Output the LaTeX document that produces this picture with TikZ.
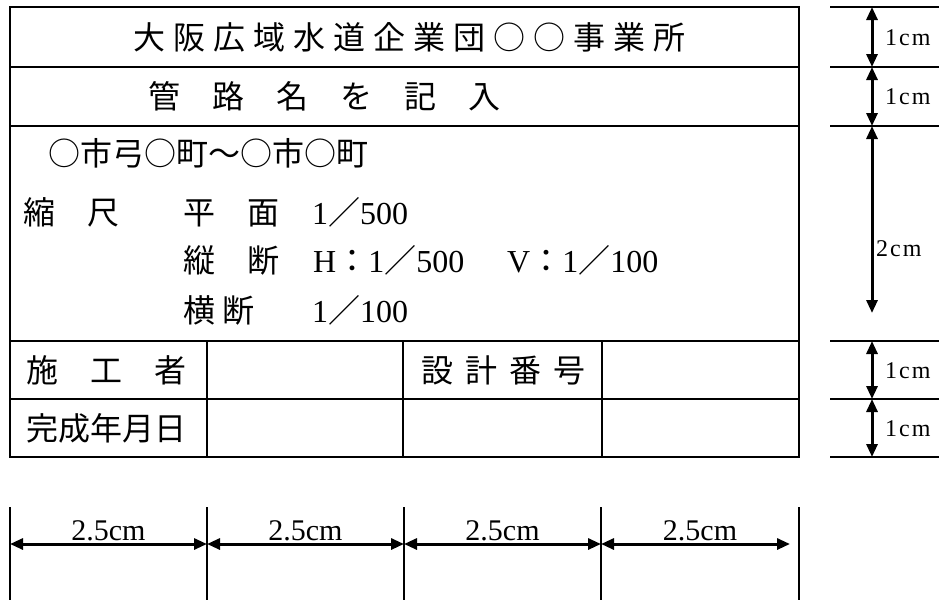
\documentclass[tikz,border=0pt]{standalone}
\usepackage{fontspec}
\setmainfont{Liberation Serif}
\newfontfamily\cjk{Noto Sans CJK JP}
\usetikzlibrary{arrows.meta}
\newcommand{\tgap}{\hspace{8pt}}

\begin{document}
\begin{tikzpicture}[x=1pt,y=-1pt,
cell text/.style =
  {anchor=base west, inner sep=0pt,
   font=\fontsize{32}{36}\selectfont},
dim label/.style =
  {anchor=base west, inner sep=0pt,
   font=\fontsize{24}{28}\selectfont},
width label/.style =
  {anchor=base, inner sep=0pt,
   font=\fontsize{30}{34}\selectfont},
frame line/.style = {line width=2.4pt},
dim arrow/.style =
  {line width=3pt,
   {Triangle[length=13pt,width=11pt]}-{Triangle[length=13pt,width=11pt]}}
]
\useasboundingbox (0,0) rectangle (939,600);
%Table
\draw[frame line] (10,7) rectangle (799,457);
\draw[frame line] (10,67) -- (799,67);
\draw[frame line] (10,126) -- (799,126);
\draw[frame line] (10,341) -- (799,341);
\draw[frame line] (10,399) -- (799,399);
\draw[frame line] (207,341) -- (207,457);
\draw[frame line] (403,341) -- (403,457);
\draw[frame line] (602,341) -- (602,457);
%Texts
\node[cell text] (title) at (133,49) {\cjk 大\tgap 阪\tgap 広\tgap 域\tgap 水\tgap 道\tgap 企\tgap 業\tgap 団\tgap ○\tgap ○\tgap 事\tgap 業\tgap 所};
\node[cell text] (pipe) at (148,108) {\cjk 管　路　名　を　記　入};
\node[cell text] (route) at (48,165) {\cjk ○市弓○町～○市○町};
\node[cell text] (scale) at (23,224) {\cjk 縮　尺};
\node[cell text] (plan) at (183,224) {\cjk 平　面};
\node[cell text] (plan-v) at (312,224) {1{\cjk ／}500};
\node[cell text] (prof) at (183,272) {\cjk 縦　断};
\node[cell text] (prof-h) at (313,272) {H{\cjk ：}1{\cjk ／}500};
\node[cell text] (prof-v) at (507,272) {V{\cjk ：}1{\cjk ／}100};
\node[cell text] (cross) at (183,322) {{\cjk 横}\hspace{7pt}{\cjk 断}};
\node[cell text] (cross-v) at (312,322) {1{\cjk ／}100};
\node[cell text] (builder) at (26,382) {\cjk 施　工　者};
\node[cell text] (design) at (421,382) {\cjk 設\hspace{12pt}計\hspace{12pt}番\hspace{12pt}号};
\node[cell text] (done) at (26,440) {\cjk 完成年月日};
%Heights
\draw[frame line] (830,7) -- (939,7);
\draw[frame line] (830,67) -- (939,67);
\draw[frame line] (830,126) -- (939,126);
\draw[frame line] (830,341) -- (939,341);
\draw[frame line] (830,399) -- (939,399);
\draw[frame line] (830,457) -- (939,457);
\coordinate (r0) at (872,7);
\coordinate (r1) at (872,67);
\coordinate (r2) at (872,126);
\coordinate (r3) at (872,313);
\coordinate (r4) at (872,341);
\coordinate (r5) at (872,399);
\coordinate (r6) at (872,457);
\draw[dim arrow] (r0) -- (r1);
\draw[dim arrow] (r1) -- (r2);
\draw[dim arrow] (r2) -- (r3);
\draw[dim arrow] (r4) -- (r5);
\draw[dim arrow] (r5) -- (r6);
\node[dim label] (h-title) at (885,45) {1\hspace{2pt}c\hspace{2pt}m};
\node[dim label] (h-pipe) at (885,104) {1\hspace{2pt}c\hspace{2pt}m};
\node[dim label] (h-scale) at (876,256) {2\hspace{2pt}c\hspace{2pt}m};
\node[dim label] (h-builder) at (885,378) {1\hspace{2pt}c\hspace{2pt}m};
\node[dim label] (h-done) at (885,436) {1\hspace{2pt}c\hspace{2pt}m};
%Widths
\draw[frame line] (10,507) -- (10,600);
\draw[frame line] (207,507) -- (207,600);
\draw[frame line] (404,507) -- (404,600);
\draw[frame line] (601,507) -- (601,600);
\draw[frame line] (799,507) -- (799,600);
\coordinate (w0) at (10,544);
\coordinate (w1) at (207,544);
\coordinate (w2) at (404,544);
\coordinate (w3) at (601,544);
\coordinate (w4) at (790,544);
\draw[dim arrow] (w0) -- (w1);
\draw[dim arrow] (w1) -- (w2);
\draw[dim arrow] (w2) -- (w3);
\draw[dim arrow] (w3) -- (w4);
\node[width label] (w-a) at (108.5,540) {2.5cm};
\node[width label] (w-b) at (305.5,540) {2.5cm};
\node[width label] (w-c) at (502.5,540) {2.5cm};
\node[width label] (w-d) at (700,540) {2.5cm};
\end{tikzpicture}
\end{document}
